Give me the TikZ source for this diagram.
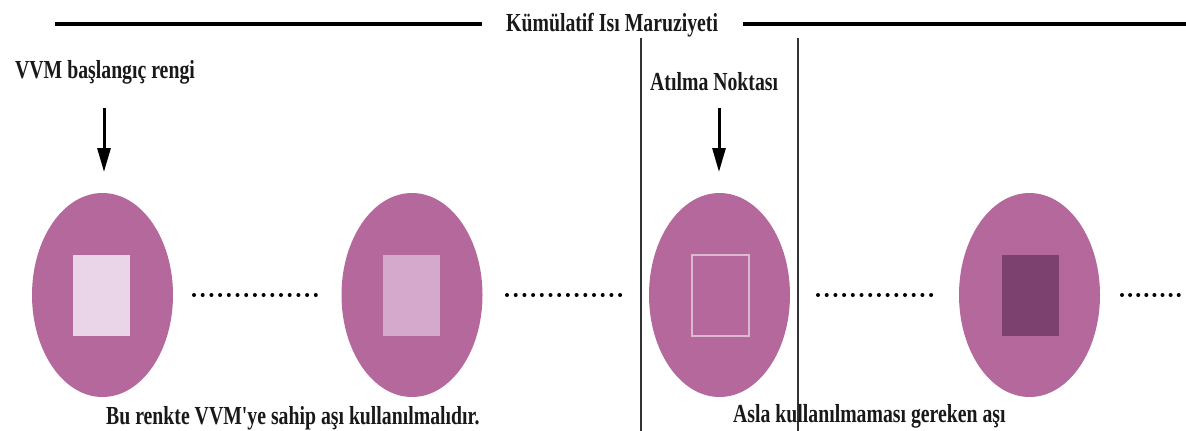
\documentclass[tikz,border=0pt]{standalone}
\usepackage{fontspec}
\setmainfont{Liberation Serif}
\newfontfamily\lblfont[FakeStretch=0.76]{Liberation Serif}
\usetikzlibrary{shapes.geometric,arrows.meta,calc}
\definecolor{mauve}{HTML}{B5689B}
\definecolor{sqA}{HTML}{E9D5E7}
\definecolor{sqB}{HTML}{D5A9CC}
\definecolor{sqC}{HTML}{DBB9D1}
\definecolor{sqD}{HTML}{7C416F}
\tikzset{
  lbl/.style={font=\lblfont\bfseries\fontsize{26}{30}\selectfont, inner sep=0pt, anchor=base west, text=black!90},
  vial/.style={ellipse, fill=mauve, minimum width=141pt, minimum height=204pt, inner sep=0pt},
  sq/.style={rectangle, minimum width=57pt, minimum height=81pt, inner sep=0pt},
  thickline/.style={line width=4pt, black},
  sepline/.style={line width=1.2pt, black!80},
  arr/.style={line width=3pt, -{Triangle[length=24pt,width=13pt]}},
  dotline/.style={line width=4pt, line cap=round, dash pattern=on 0pt off 8.7pt}
}
\begin{document}
\begin{tikzpicture}[x=1pt,y=-1pt]
\useasboundingbox (0,0) rectangle (1186,431);
% title and thick lines
\node[lbl] (title) at (506,31) {Kümülatif Isı Maruziyeti};
\coordinate (L0) at (55,24);
\coordinate (L1) at (482,24);
\coordinate (R0) at (743,24);
\coordinate (R1) at (1186,24);
\draw[thickline] (L0) -- (L1);
\draw[thickline] (R0) -- (R1);
% separator lines
\coordinate (v1a) at (641,38); \coordinate (v1b) at (641,431);
\coordinate (v2a) at (798,38); \coordinate (v2b) at (798,431);
\draw[sepline] (v1a) -- (v1b);
\draw[sepline] (v2a) -- (v2b);
% vials
\node[vial] (e1) at (102.5,295) {};
\node[vial] (e2) at (412,295) {};
\node[vial] (e3) at (719.5,295) {};
\node[vial] (e4) at (1029.5,295) {};
\node[sq, fill=sqA] (s1) at (101.5,295) {};
\node[sq, fill=sqB] (s2) at (411,295) {};
\node[sq, draw=sqC, line width=1.2pt] (s3) at (720.5,295.5) {};
\node[sq, fill=sqD] (s4) at (1030.5,295) {};
% labels
\node[lbl] (start) at (15,78) {VVM başlangıç rengi};
\node[lbl] (disc) at (650,90) {Atılma Noktası};
\node[lbl] (use) at (106,424) {Bu renkte VVM'ye sahip aşı kullanılmalıdır.};
\node[lbl] (never) at (733,422) {Asla kullanılmaması gereken aşı};
% arrows
\coordinate (a1) at (104,108);
\coordinate (a2) at (719,108);
\draw[arr] (a1) -- ($(a1)+(0,64)$);
\draw[arr] (a2) -- ($(a2)+(0,64)$);
% dotted lines
\coordinate (d1a) at (194,295); \coordinate (d1b) at (316,295);
\coordinate (d2a) at (507,295); \coordinate (d2b) at (628,295);
\coordinate (d3a) at (818,295); \coordinate (d3b) at (939,295);
\coordinate (d4a) at (1122,295); \coordinate (d4b) at (1179,295);
\draw[dotline] (d1a) -- (d1b);
\draw[dotline] (d2a) -- (d2b);
\draw[dotline] (d3a) -- (d3b);
\draw[dotline, dash pattern=on 0pt off 8.1pt] (d4a) -- (d4b);
\end{tikzpicture}
\end{document}
